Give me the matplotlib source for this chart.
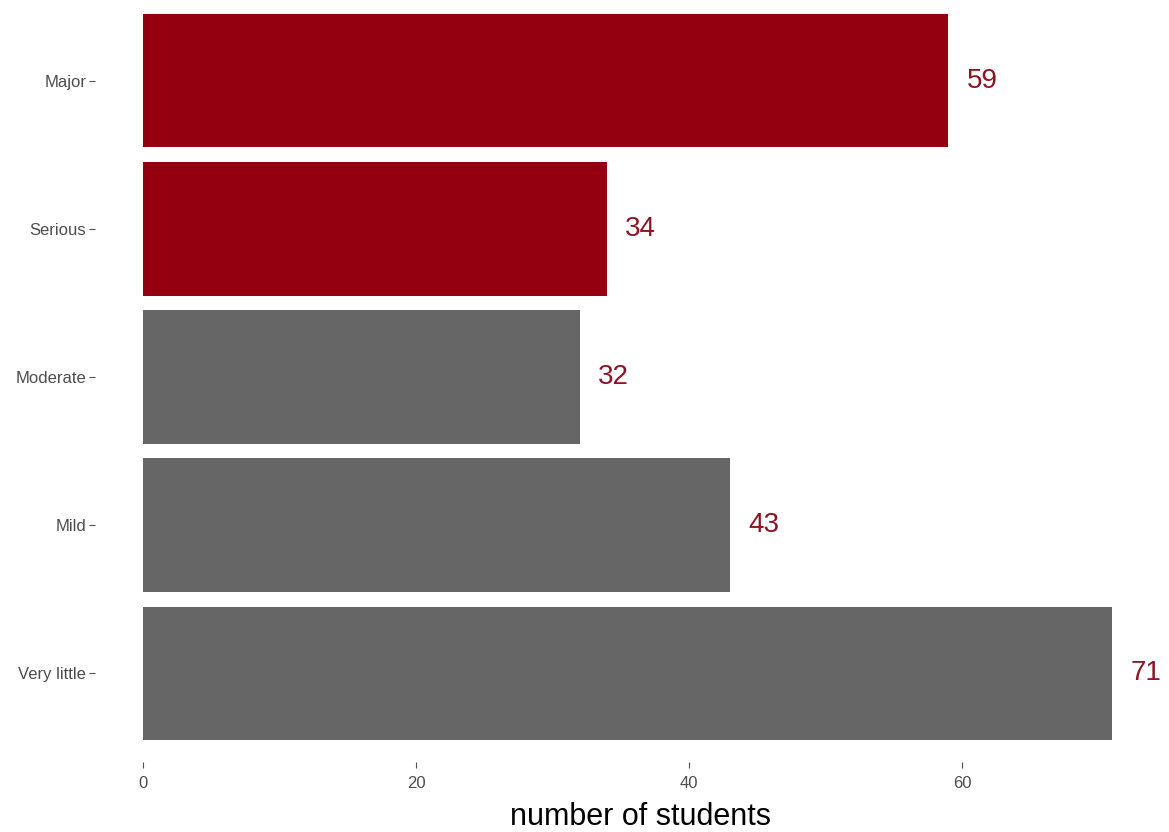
import matplotlib
matplotlib.use('Agg')
import matplotlib.pyplot as plt
import numpy as np

categories = ['Very little', 'Mild', 'Moderate', 'Serious', 'Major']
counts = [71, 43, 32, 34, 59]
highlight = [False, False, False, True, True]

red = '#940010'
grey = '#666666'
label_col = '#8B1525'

plt.rcParams['font.family'] = ['Liberation Sans', 'DejaVu Sans']

fig = plt.figure(figsize=(11.69, 8.32), dpi=100)
ax = fig.add_axes([94.5 / 1169, 70 / 832, (1160.6 - 94.5) / 1169, 770 / 832])

y_pos = np.arange(1, len(categories) + 1)
colors = [red if h else grey for h in highlight]
ax.barh(y_pos, counts, height=0.9, color=colors)

for y, c in zip(y_pos, counts):
	ax.annotate(str(c), (c, y), xytext=(13, 0), textcoords='offset points',
		ha='left', va='center', fontsize=20, color=label_col)

ax.set_xlim(-3.55, 74.55)
ax.set_ylim(0.4, 5.6)
ax.set_yticks(y_pos)
ax.set_yticklabels(categories)
ax.set_xticks([0, 20, 40, 60])

for s in ax.spines.values():
	s.set_visible(False)
ax.tick_params(axis='both', colors='#4D4D4D', labelsize=12, length=4, width=0.8, pad=2)
ax.tick_params(axis='x', pad=6)
ax.set_xlabel('number of students', fontsize=22, labelpad=8, x=0.512)

fig.savefig('out.png', dpi=100)
